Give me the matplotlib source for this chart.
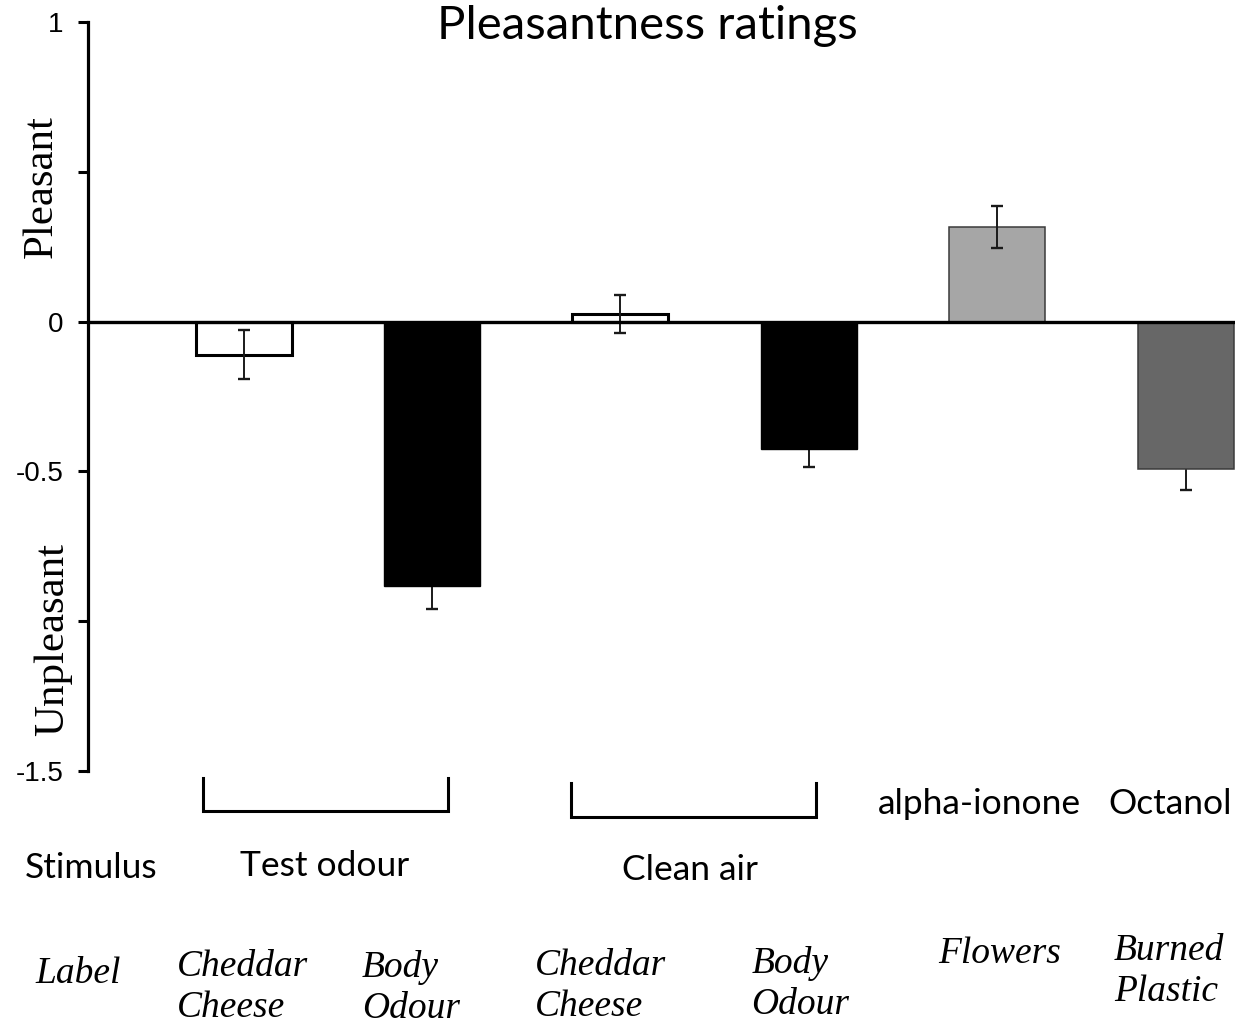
import matplotlib
matplotlib.use("Agg")
import matplotlib.pyplot as plt
import matplotlib.transforms as mtransforms

# ---------------- data ----------------
title = "Pleasantness ratings"
means = [-0.111, -0.882, 0.025, -0.424, 0.317, -0.491]
sems = [0.082, 0.076, 0.063, 0.062, 0.070, 0.072]
labels = ["Cheddar\nCheese", "Body\nOdour", "Cheddar\nCheese", "Body\nOdour",
          "Flowers", "Burned\nPlastic"]
group_names = ["Test odour", "Clean air"]
group_members = [[0, 1], [2, 3]]
single_names = ["alpha-ionone", "Octanol"]
single_members = [4, 5]
yticks = [1, 0.5, 0, -0.5, -1, -1.5]
ytick_labels = ["1", "", "0", "-0.5", "", "-1.5"]
ylabel_pos = "Pleasant"
ylabel_neg = "Unpleasant"
row_stimulus = "Stimulus"
row_label = "Label"

# ---------------- style ----------------
fill_colors = ["white", "black", "white", "black", "#a6a6a6", "#676767"]
edge_colors = ["black", "black", "black", "black", "#3a3a3a", "#3a3a3a"]
edge_widths = [2.2, 1.0, 2.2, 1.0, 1.1, 1.1]
err_front = [True, False, True, False, True, False]
SANS = ["Lato", "DejaVu Sans"]
SERIF = ["Liberation Serif", "DejaVu Serif"]
TICKF = ["Liberation Sans", "DejaVu Sans"]
SANS_SIZE = 25.5

W, H = 1235, 1026
fig = plt.figure(figsize=(W / 100, H / 100), dpi=100)
ax = fig.add_axes([88 / W, 255 / H, 1147 / W, 749 / H])

x = list(range(len(means)))
ax.bar(x, means, width=0.51, color=fill_colors, edgecolor=edge_colors,
       linewidth=edge_widths, zorder=2)
for i in x:
    ax.errorbar(i, means[i], yerr=sems[i], fmt="none", ecolor="#1a1a1a",
                elinewidth=1.4, capsize=4.3, capthick=1.7,
                zorder=3 if err_front[i] else 1)
ax.axhline(0, color="black", lw=2.4, zorder=4)

ax.set_xlim(-0.826, 5.262)
ax.set_ylim(-1.5, 1)
ax.set_yticks(yticks)
ax.set_yticklabels(ytick_labels, fontfamily=TICKF, fontsize=20)
ax.set_xticks([])
for s in ["top", "right", "bottom"]:
    ax.spines[s].set_visible(False)
ax.spines["left"].set_linewidth(2.3)
ax.tick_params(axis="y", direction="out", length=7.5, width=2.2, pad=10)

# title
tr_dx_ay = mtransforms.blended_transform_factory(ax.transData, ax.transAxes)
ax.text(2.141, 0.977, title, transform=tr_dx_ay, ha="center", va="baseline",
        fontfamily=SANS, fontsize=34)

# y labels (serif, rotated)
tr_ax_dy = mtransforms.blended_transform_factory(ax.transAxes, ax.transData)
ax.text(-0.0314, 0.45, ylabel_pos, transform=tr_ax_dy, rotation=90,
        rotation_mode="anchor", ha="center", va="baseline",
        fontfamily=SERIF, fontsize=31)
ax.text(-0.0218, -1.06, ylabel_neg, transform=tr_ax_dy, rotation=90,
        rotation_mode="anchor", ha="center", va="baseline",
        fontfamily=SERIF, fontsize=31)

# group brackets and stimulus names
bracket_pad = [(-0.216, 0.084, -0.0093, -0.0534), (-0.263, 0.038, -0.016, -0.0614)]
group_text_dx = [-0.068, -0.131]
group_text_y = [-0.1402, -0.1455]
for name, mem, (pl, pr, yt, yb), dx, ty in zip(group_names, group_members,
                                              bracket_pad, group_text_dx, group_text_y):
    xl = min(mem) + pl
    xr = max(mem) + pr
    ax.plot([xl, xl, xr, xr], [yt, yb, yb, yt], transform=tr_dx_ay, color="black",
            lw=2.2, clip_on=False, solid_joinstyle="miter")
    ax.text(sum(mem) / len(mem) + dx, ty, name, transform=tr_dx_ay, ha="center",
            va="baseline", fontfamily=SANS, fontsize=SANS_SIZE)

single_dx = [-0.094, -0.083]
for name, idx, dx in zip(single_names, single_members, single_dx):
    ax.text(idx + dx, -0.0574, name, transform=tr_dx_ay, ha="center",
            va="baseline", fontfamily=SANS, fontsize=SANS_SIZE)

ax.text(-0.0549, -0.1429, row_stimulus, transform=ax.transAxes, ha="left",
        va="baseline", fontfamily=SANS, fontsize=SANS_SIZE)
ax.text(-0.0462, -0.2830, row_label, transform=ax.transAxes, ha="left",
        va="baseline", fontfamily=SERIF, style="italic", fontsize=27)

# italic labels under each bar
label_dx = [-0.355, -0.372, -0.453, -0.306, -0.313, -0.380]
label_y = [-0.2737, -0.2750, -0.2724, -0.2697, -0.2563, -0.2523]
line_gap = 0.0550
for i, (lab, dx, ly) in enumerate(zip(labels, label_dx, label_y)):
    for k, line in enumerate(lab.split("\n")):
        ax.text(i + dx, ly - k * line_gap, line, transform=tr_dx_ay, ha="left",
                va="baseline", fontfamily=SERIF, style="italic", fontsize=27)

fig.savefig("out.png", dpi=100)
